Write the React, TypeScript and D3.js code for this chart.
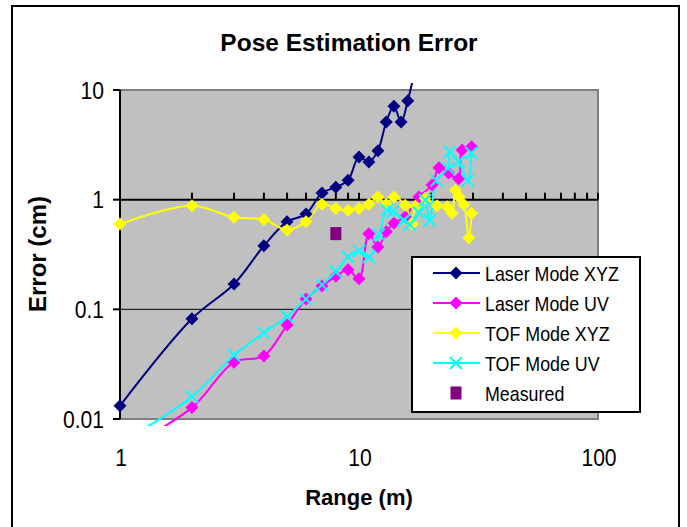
import React from "react";
import { scaleLog, line, curveCatmullRom } from "d3";

// [range (m), error (cm)]
const laserXyz = [
  [1, 0.0132], [2, 0.082], [3, 0.17], [4, 0.38], [5, 0.63], [6, 0.74],
  [7, 1.15], [8, 1.3], [9, 1.5], [10, 2.45], [11, 2.2], [12, 2.8],
  [13, 5.1], [14, 7.1], [15, 5.1], [16, 8.0], [17, 14]
];
const laserUv = [
  [1, 0.005], [2, 0.0127], [3, 0.033], [4, 0.0376], [5, 0.072], [6, 0.124],
  [7, 0.163], [8, 0.2], [9, 0.23], [10, 0.19], [11, 0.49], [12, 0.37],
  [13, 0.51], [14, 0.61], [15.6, 0.7], [17.8, 1.06], [20.2, 1.36],
  [21.6, 1.95], [23.7, 1.75], [26.1, 1.55], [27, 2.84], [29.6, 3.04]
];
const tofXyz = [
  [1, 0.6], [2, 0.88], [3, 0.69], [4, 0.66], [5, 0.53], [6, 0.63],
  [7, 0.91], [8, 0.83], [9, 0.8], [10, 0.83], [11, 0.91], [12, 1.06],
  [13, 0.91], [14, 1.06], [15.6, 0.89], [16.7, 0.6], [17.2, 0.87],
  [18.9, 1.03], [21.2, 0.88], [23.4, 0.86], [24.5, 0.75], [25.3, 1.22],
  [26.2, 1.06], [27.5, 0.9], [28.8, 0.45], [29.6, 0.75]
];
const tofUv = [
  [1, 0.006], [2, 0.016], [3, 0.038], [4, 0.061], [5, 0.086], [6, 0.124],
  [7, 0.167], [8, 0.22], [9, 0.3], [10, 0.34], [11, 0.3], [12.1, 0.48],
  [13.1, 0.8], [13.9, 0.78], [15.4, 0.65], [16.3, 0.59], [17.8, 0.76],
  [18.9, 0.99], [19.8, 0.65], [21.1, 1.5], [23.6, 1.94], [24, 2.74],
  [26.1, 2.22], [28.5, 1.5], [29.5, 2.66]
];
const measured = [[8, 0.49]];

const yTickLabels = [0.01, 0.1, 1, 10];
const xTickLabels = [1, 10, 100];

const series = [
  { name: "Laser Mode XYZ", data: laserXyz, color: "#000080", marker: "diamond" },
  { name: "Laser Mode UV", data: laserUv, color: "#FF00FF", marker: "diamond" },
  { name: "TOF Mode XYZ", data: tofXyz, color: "#FFFF00", marker: "diamond" },
  { name: "TOF Mode UV", data: tofUv, color: "#00FFFF", marker: "cross" }
];

const W = 687;
const H = 527;
const plot = { left: 120, right: 598, top: 90, bottom: 419 };

function Marker({ type, x, y, color }: { type: string; x: number; y: number; color: string }) {
  if (type === "diamond") {
    return <path d={`M${x},${y - 6.5}L${x + 6.5},${y}L${x},${y + 6.5}L${x - 6.5},${y}Z`} fill={color} />;
  }
  if (type === "cross") {
    return (
      <path
        d={`M${x - 6},${y - 6}L${x + 6},${y + 6}M${x + 6},${y - 6}L${x - 6},${y + 6}`}
        stroke={color}
        strokeWidth={2}
      />
    );
  }
  return <rect x={x - 5.5} y={y - 6.5} width={11} height={13} fill={color} />;
}

export default function App() {
  const x = scaleLog().domain([1, 100]).range([plot.left, plot.right]);
  const y = scaleLog().domain([0.01, 10]).range([plot.bottom, plot.top]);

  const path = line<number[]>()
    .x((d) => x(d[0]))
    .y((d) => y(d[1]))
    .curve(curveCatmullRom.alpha(0.5));

  const inside = (v: number) => v >= 0.009 && v <= 10.5;
  const font = "Arial, 'Liberation Sans', sans-serif";

  return (
    <div style={{ position: "absolute", left: 0, top: 0 }}>
      <svg width={W} height={H} style={{ display: "block", background: "#fff" }} fontFamily={font}>
        <defs>
          <clipPath id="plotClip">
            <rect x={plot.left - 10} y={plot.top - 7} width={plot.right - plot.left + 20} height={plot.bottom - plot.top + 14} />
          </clipPath>
        </defs>

        {/* outer frame */}
        <rect x={12} y={6} width={667} height={540} fill="none" stroke="#000" strokeWidth={2} />

        <text x={349} y={51} textAnchor="middle" fontSize={24.5} fontWeight="bold">
          Pose Estimation Error
        </text>

        {/* plot area */}
        <rect
          x={plot.left}
          y={plot.top}
          width={plot.right - plot.left}
          height={plot.bottom - plot.top}
          fill="#C0C0C0"
          stroke="#808080"
          strokeWidth={2}
        />
        <line x1={plot.left} x2={plot.right} y1={y(0.1)} y2={y(0.1)} stroke="#000" strokeWidth={1} />

        {/* x axis crosses at 1 */}
        <line x1={plot.left} x2={plot.right} y1={y(1)} y2={y(1)} stroke="#000" strokeWidth={2} />
        {x.ticks().map((t, i) => (
          <line key={i} x1={x(t)} x2={x(t)} y1={y(1)} y2={y(1) - 7} stroke="#000" strokeWidth={2} />
        ))}
        {xTickLabels.map((t) => (
          <text key={t} transform={`translate(${x(t) + 1},466) scale(0.88,1)`} textAnchor="middle" fontSize={24}>
            {t}
          </text>
        ))}

        {/* y axis */}
        <line x1={plot.left} x2={plot.left} y1={plot.top} y2={plot.bottom} stroke="#000" strokeWidth={2} />
        {yTickLabels.map((t) => (
          <g key={t}>
            <line x1={plot.left - 7} x2={plot.left} y1={y(t)} y2={y(t)} stroke="#000" strokeWidth={2} />
            <text transform={`translate(104,${y(t) + 8.5}) scale(0.88,1)`} textAnchor="end" fontSize={24}>
              {t}
            </text>
          </g>
        ))}

        <text transform="translate(46,254) rotate(-90)" textAnchor="middle" fontSize={24} fontWeight="bold">
          Error (cm)
        </text>
        <text x={359} y={505} textAnchor="middle" fontSize={22} fontWeight="bold">
          Range (m)
        </text>

        {/* series */}
        <g clipPath="url(#plotClip)">
          {series.map((s) => (
            <path key={s.name} d={path(s.data) ?? ""} fill="none" stroke={s.color} strokeWidth={2} />
          ))}
          {series.map((s) =>
            s.data
              .filter((d) => inside(d[1]))
              .map((d, i) => <Marker key={s.name + i} type={s.marker} x={x(d[0])} y={y(d[1])} color={s.color} />)
          )}
          {measured.map((d, i) => (
            <Marker key={"m" + i} type="square" x={x(d[0])} y={y(d[1])} color="#800080" />
          ))}
        </g>

        {/* legend */}
        <rect x={412} y={257} width={228} height={155} fill="#fff" stroke="#000" strokeWidth={2} />
        {[...series, { name: "Measured", data: measured, color: "#800080", marker: "square" }].map((s, i) => {
          const ly = 273 + i * 30;
          return (
            <g key={s.name}>
              {s.marker !== "square" && <line x1={433} x2={480} y1={ly} y2={ly} stroke={s.color} strokeWidth={2} />}
              <Marker type={s.marker} x={456} y={ly} color={s.color} />
              <text transform={`translate(485,${ly + 7.5}) scale(0.85,1)`} fontSize={21}>
                {s.name}
              </text>
            </g>
          );
        })}
      </svg>
    </div>
  );
}
